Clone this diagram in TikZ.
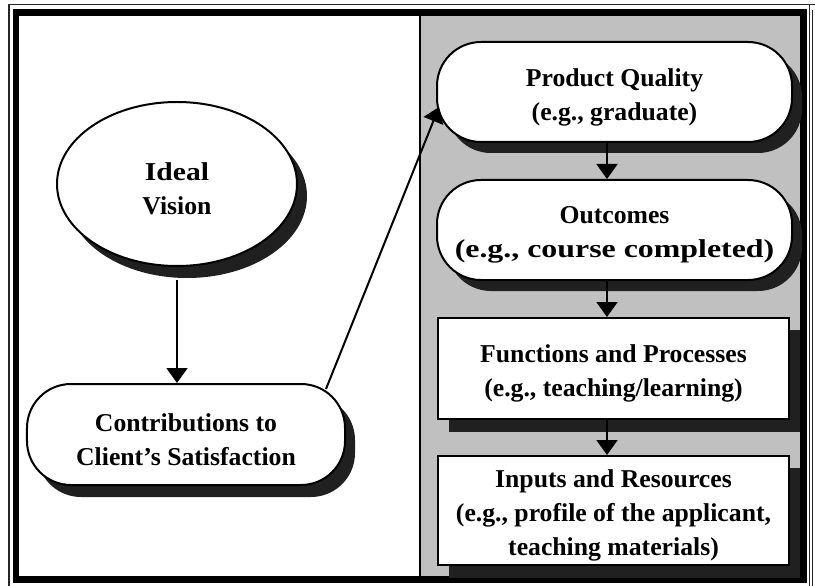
\documentclass[tikz,border=0pt]{standalone}
\usepackage{fontspec}
\usepackage{graphicx}
\setmainfont{Liberation Serif}
\usetikzlibrary{shapes.geometric,arrows.meta,calc}
\definecolor{panelgray}{RGB}{192,192,192}
\definecolor{dropgray}{RGB}{32,32,32}
% horizontally widened text used in two of the labels
\newcommand{\widened}[2]{\scalebox{#1}[1]{#2}}
\begin{document}
\begin{tikzpicture}[x=1bp,y=-1bp,
  lbl/.style={font=\bfseries\fontsize{25.8}{34}\selectfont, align=center, text=black,
              inner sep=0pt, yshift=-5bp},
  stadium/.style={draw=black, line width=2bp, fill=white, rounded corners=44bp,
                  minimum width=#1, minimum height=100bp, inner sep=0pt},
  plainbox/.style={draw=black, line width=2bp, fill=white,
                   minimum width=351bp, inner sep=0pt},
  drop/.style={fill=dropgray, draw=none},
  arr/.style={line width=2bp, -{Triangle[length=15bp, width=21bp]}},
]
\useasboundingbox (0,0) rectangle (815,586);

% frame and shaded right-hand panel
\fill[panelgray] (420,15) rectangle (801,577);
\draw[line width=1.4bp, black!85] (9,600) |- (809.5,4.5) -- (809.5,600);
\draw[line width=1.4bp, black!85] (809.5,4.5) -- (815,4.5);
\draw[line width=1.4bp, black!85] (812.5,10) -- (812.5,600);
\draw[line width=6.5bp] (16,12.5) rectangle (803.5,579.5);
\draw[line width=1.5bp] (420,15) -- (420,577);

% drop shadows
\fill[dropgray] (187,196) ellipse [x radius=120bp, y radius=82bp];
\node[stadium=318bp, drop, minimum height=101bp] (cssh) at (196,446.5) {};
\node[stadium=355bp, drop] (pqsh) at (624.5,103) {};
\node[stadium=355bp, drop] (ocsh) at (624.5,241) {};
\fill[dropgray] (449,330) rectangle (800,432);
\fill[dropgray] (449,468) rectangle (800,578);

% shapes
\node[ellipse, draw=black, line width=2bp, fill=white,
      minimum width=240bp, minimum height=164bp, inner sep=0pt] (iv) at (177,184) {};
\node[stadium=318bp, minimum height=101bp] (cs) at (186,434.5) {};
\node[stadium=355bp] (pq) at (614.5,92) {};
\node[stadium=355bp] (oc) at (614.5,230) {};
\node[plainbox, minimum height=101bp] (fp) at (613.5,368.5) {};
\node[plainbox, minimum height=109bp] (ir) at (613.5,510.5) {};

% labels
\node[lbl] (ivt) at (iv.center) {\widened{1.15}{Ideal}\\Vision};
\node[lbl] (cst) at (cs.center) {Contributions to\\Client’s Satisfaction};
\node[lbl] (pqt) at (pq.center) {Product Quality\\(e.g., graduate)};
\node[lbl] (oct) at (oc.center) {Outcomes\\\widened{1.24}{(e.g., course completed)}};
\node[lbl] (fpt) at (fp.center) {Functions and Processes\\(e.g., teaching/learning)};
\node[lbl] (irt) at (ir.center) {Inputs and Resources\\(e.g., profile of the applicant,\\teaching materials)};

% connectors
\coordinate (rx) at (607,0);
\draw[arr] ($(iv.south)+(0,13)$) -- (iv.south |- cs.north);
\draw[arr] ($(cs.north east)+(-20,6)$) -- ($(pq.west)+(3,15)$);
\draw[arr] (rx |- pq.south) -- (rx |- oc.north);
\draw[arr] (rx |- oc.south) -- (rx |- fp.north);
\draw[arr] (rx |- fp.south) -- (rx |- ir.north);
\end{tikzpicture}
\end{document}
